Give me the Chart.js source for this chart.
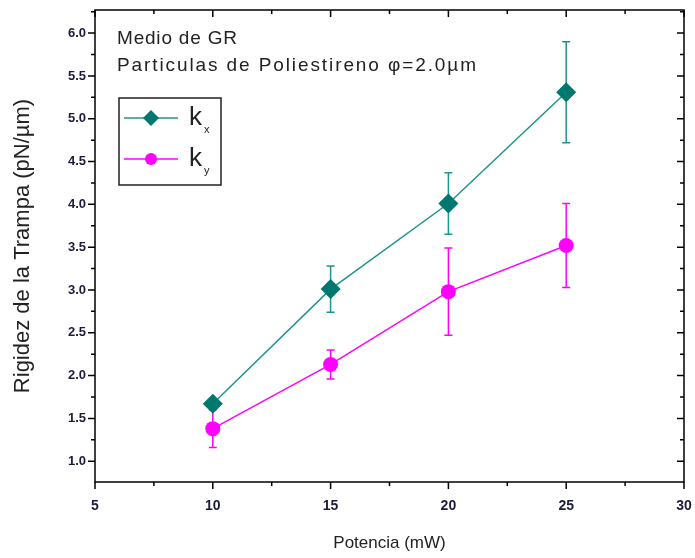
<!DOCTYPE html>
<html>
<head>
<meta charset="utf-8">
<script src="https://cdn.jsdelivr.net/npm/chart.js@4.4.0/dist/chart.umd.min.js"></script>
<style>
  body { margin: 0; background: #fff; }
  #wrap { width: 695px; height: 558px; position: relative; }
</style>
</head>
<body>
<div id="wrap"><canvas id="myChart"></canvas></div>
<script>
// data
const powers = [10, 15, 20, 25]
const kx = [1.67, 3.01, 4.01, 5.31]
const kxErr = [0.05, 0.27, 0.36, 0.59]
const ky = [1.38, 2.13, 2.98, 3.52]
const kyErr = [0.22, 0.17, 0.51, 0.49]
const xTicks = [5, 10, 15, 20, 25, 30]
const yTicks = [1.0, 1.5, 2.0, 2.5, 3.0, 3.5, 4.0, 4.5, 5.0, 5.5, 6.0]

const teal = '#00786f'
const tealLine = '#1f948c'
const pink = '#ff00ff'
const ink = '#1c1c3a'

const errorBars = (chart, ys, errs, color) => {
    const ctx = chart.ctx
    const x = chart.scales.x
    const y = chart.scales.y
    ctx.save()
    ctx.strokeStyle = color
    ctx.lineWidth = 1.5
    powers.forEach((p, i) => {
        const px = x.getPixelForValue(p)
        const top = y.getPixelForValue(ys[i] + errs[i])
        const bot = y.getPixelForValue(ys[i] - errs[i])
        ctx.beginPath()
        ctx.moveTo(px, top); ctx.lineTo(px, bot)
        ctx.moveTo(px - 4, top); ctx.lineTo(px + 4, top)
        ctx.moveTo(px - 4, bot); ctx.lineTo(px + 4, bot)
        ctx.stroke()
    })
    ctx.restore()
}

const frame = {
    id: 'frame',
    beforeDatasetsDraw(chart) {
        errorBars(chart, kx, kxErr, tealLine)
        errorBars(chart, ky, kyErr, pink)
    },
    afterDraw(chart) {
        const ctx = chart.ctx
        const a = chart.chartArea
        const x = chart.scales.x
        const y = chart.scales.y
        ctx.save()
        ctx.strokeStyle = '#000'
        ctx.lineWidth = 1.5
        ctx.strokeRect(a.left, a.top, a.right - a.left, a.bottom - a.top)

        // x ticks: bottom outward, top inward
        ctx.beginPath()
        for (let v = 5; v <= 30; v += 2.5) {
            const px = x.getPixelForValue(v)
            const len = v % 5 === 0 ? 7 : 4
            ctx.moveTo(px, a.bottom); ctx.lineTo(px, a.bottom + len)
            ctx.moveTo(px, a.top); ctx.lineTo(px, a.top + len)
        }
        // y ticks: left outward, right inward
        for (let v = 1.0; v <= 6.26; v += 0.25) {
            const py = y.getPixelForValue(v)
            const len = Math.abs(v * 2 - Math.round(v * 2)) < 0.01 ? 7 : 4
            ctx.moveTo(a.left, py); ctx.lineTo(a.left - len, py)
            ctx.moveTo(a.right, py); ctx.lineTo(a.right - len, py)
        }
        ctx.stroke()

        // annotation
        ctx.fillStyle = '#222'
        ctx.font = '19px "Liberation Sans", Arial, sans-serif'
        ctx.textBaseline = 'middle'
        ctx.textAlign = 'left'
        ctx.letterSpacing = '0.8px'
        ctx.fillText('Medio de GR', 117, 39)
        ctx.letterSpacing = '1.9px'
        ctx.fillText('Particulas de Poliestireno \u03C6=2.0\u00B5m', 117, 66)
        ctx.letterSpacing = '0px'

        // legend box
        ctx.strokeStyle = '#222'
        ctx.lineWidth = 1.5
        ctx.strokeRect(119, 98, 102, 87)
        const rows = [
            { y: 118, line: tealLine, fill: teal, sub: 'x', shape: 'diamond' },
            { y: 159, line: pink, fill: pink, sub: 'y', shape: 'circle' }
        ]
        rows.forEach(r => {
            ctx.strokeStyle = r.line
            ctx.lineWidth = 1.5
            ctx.beginPath()
            ctx.moveTo(124, r.y); ctx.lineTo(178, r.y)
            ctx.stroke()
            ctx.fillStyle = r.fill
            ctx.beginPath()
            if (r.shape === 'diamond') {
                ctx.moveTo(151, r.y - 8); ctx.lineTo(159, r.y); ctx.lineTo(151, r.y + 8); ctx.lineTo(143, r.y)
            } else {
                ctx.arc(151, r.y, 6, 0, Math.PI * 2)
            }
            ctx.closePath()
            ctx.fill()
            ctx.fillStyle = '#222'
            ctx.font = '26px "Liberation Sans", Arial, sans-serif'
            ctx.fillText('k', 189, r.y)
            ctx.font = '11px "Liberation Sans", Arial, sans-serif'
            ctx.fillText(r.sub, 204, r.y + 12)
        })
        ctx.restore()
    }
}

const config = {
    type: 'line',
    data: {
        datasets: [{
            label: 'kx',
            data: powers.map((p, i) => ({ x: p, y: kx[i] })),
            borderColor: tealLine,
            backgroundColor: teal,
            borderWidth: 1.5,
            pointStyle: 'rectRot',
            pointRadius: 10,
            pointBorderWidth: 0,
            pointBorderColor: teal,
            pointBackgroundColor: teal
        }, {
            label: 'ky',
            data: powers.map((p, i) => ({ x: p, y: ky[i] })),
            borderColor: pink,
            backgroundColor: pink,
            borderWidth: 1.5,
            pointStyle: 'circle',
            pointRadius: 7.5,
            pointBorderWidth: 0,
            pointBackgroundColor: pink
        }]
    },
    options: {
        responsive: false,
        animation: false,
        layout: { padding: { top: 6, right: 11, left: 0, bottom: 0 } },
        plugins: { legend: { display: false }, tooltip: { enabled: false } },
        scales: {
            x: {
                type: 'linear',
                min: 5,
                max: 30,
                afterBuildTicks: s => { s.ticks = xTicks.map(v => ({ value: v })) },
                afterFit: s => { s.height = 76; s.paddingLeft = 0; s.paddingRight = 0 },
                grid: { display: false, drawTicks: false },
                border: { display: false },
                ticks: {
                    padding: 16,
                    color: ink,
                    font: { family: '"Liberation Sans Narrow", "Liberation Sans", Arial', size: 14, weight: 'bold' }
                },
                title: {
                    display: true,
                    text: 'Potencia (mW)',
                    color: '#222',
                    padding: { top: 10 },
                    font: { family: '"Liberation Sans", Arial', size: 17 }
                }
            },
            y: {
                min: 0.757,
                max: 6.27,
                afterBuildTicks: s => { s.ticks = yTicks.map(v => ({ value: v })) },
                afterFit: s => { s.width = 95; s.paddingTop = 0; s.paddingBottom = 0 },
                grid: { display: false, drawTicks: false },
                border: { display: false },
                ticks: {
                    padding: 9,
                    color: ink,
                    callback: v => v.toFixed(1),
                    font: { family: '"Liberation Sans Narrow", "Liberation Sans", Arial', size: 13, weight: 'bold' }
                },
                title: {
                    display: true,
                    text: 'Rigidez de la Trampa (pN/\u00B5m)',
                    color: '#222',
                    padding: { top: 10, bottom: 0 },
                    font: { family: '"Liberation Sans", Arial', size: 22 }
                }
            }
        }
    },
    plugins: [frame]
}

const canvas = document.getElementById('myChart')
canvas.width = 695
canvas.height = 558
const myChart = new Chart(canvas, config)
</script>
</body>
</html>
